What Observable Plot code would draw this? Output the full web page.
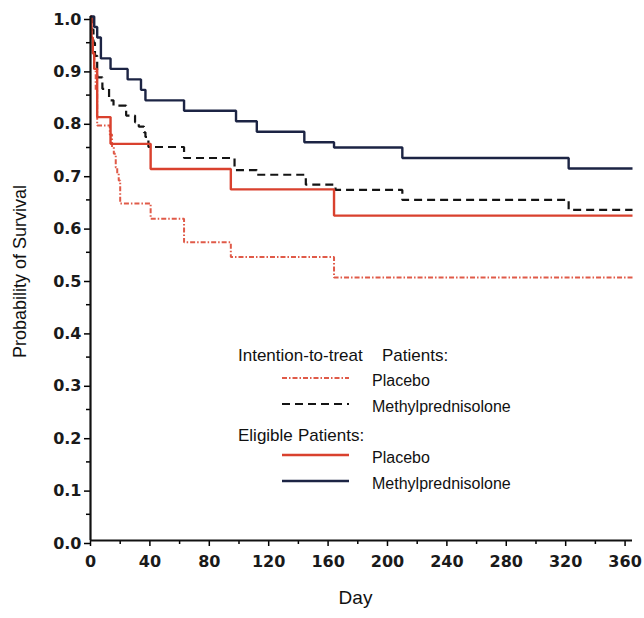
<!DOCTYPE html>
<html>
<head>
<meta charset="utf-8">
<script src="https://cdn.jsdelivr.net/npm/d3@7"></script>
<script src="https://cdn.jsdelivr.net/npm/@observablehq/plot@0.6"></script>
<style>
  html, body { margin: 0; padding: 0; background: #fff; }
  #chart svg { display: block; }
</style>
</head>
<body>
<div id="chart"></div>
<script>
// Eligible patients, methylprednisolone (solid navy)
const emDay  = [0, 2.5, 4.5, 7, 13.5, 25, 34, 37, 63, 98, 112, 144, 164, 210, 322, 365];
const emSurv = [1, 0.98, 0.96, 0.92, 0.90, 0.88, 0.86, 0.84, 0.82, 0.80, 0.78, 0.76, 0.75, 0.73, 0.71, 0.71];

// Intention-to-treat, methylprednisolone (dashed black)
const imDay  = [0, 1, 2, 3, 4.5, 8, 12.5, 15.5, 24, 30, 32.5, 36, 37, 39, 63, 97, 112, 145, 165, 210, 322, 365];
const imSurv = [1, 0.975, 0.95, 0.925, 0.884, 0.862, 0.84, 0.83, 0.811, 0.798, 0.79, 0.779, 0.77, 0.751, 0.73, 0.707, 0.698, 0.679, 0.669, 0.65, 0.631, 0.631];

// Intention-to-treat, placebo (red dash-dot)
const ipDay  = [0, 0.7, 1.5, 2.5, 3.5, 4.5, 13, 14.5, 15.7, 17, 18, 19, 20, 40.5, 63, 94.5, 164, 365];
const ipSurv = [1, 0.96, 0.93, 0.90, 0.86, 0.792, 0.775, 0.751, 0.738, 0.712, 0.70, 0.687, 0.643, 0.614, 0.569, 0.541, 0.502, 0.502];

// Eligible patients, placebo (solid red)
const epDay  = [0, 0.7, 1.5, 2.5, 4.5, 13.5, 40.5, 94.5, 164, 365];
const epSurv = [1, 0.96, 0.93, 0.90, 0.808, 0.757, 0.709, 0.670, 0.620, 0.620];

const xTicks = [0, 40, 80, 120, 160, 200, 240, 280, 320, 360];
const xMinor = [20, 60, 100, 140, 180, 220, 260, 300, 340];
const yTicks = [0, 0.1, 0.2, 0.3, 0.4, 0.5, 0.6, 0.7, 0.8, 0.9, 1.0];
const yMinor = [0.05, 0.15, 0.25, 0.35, 0.45, 0.55, 0.65, 0.75, 0.85, 0.95];

const seriesNames = ["Intention-to-treat Placebo", "Intention-to-treat Methylprednisolone", "Eligible Placebo", "Eligible Methylprednisolone"];
const legendGroups = ["Intention-to-treat", "Eligible"];
const legendLabels = ["Placebo", "Methylprednisolone", "Placebo", "Methylprednisolone"];

const styles = {
  "Intention-to-treat Placebo": {stroke: "#e05a48", strokeWidth: 2, dash: "5,2,1.5,2"},
  "Intention-to-treat Methylprednisolone": {stroke: "#141414", strokeWidth: 2.2, dash: "8,5"},
  "Eligible Placebo": {stroke: "#d9412e", strokeWidth: 2.4, dash: null},
  "Eligible Methylprednisolone": {stroke: "#1c2444", strokeWidth: 2.4, dash: null}
};

const toRows = (days, surv) => days.map((d, i) => ({day: d, s: surv[i]}));
const seriesData = {
  "Intention-to-treat Placebo": toRows(ipDay, ipSurv),
  "Intention-to-treat Methylprednisolone": toRows(imDay, imSurv),
  "Eligible Placebo": toRows(epDay, epSurv),
  "Eligible Methylprednisolone": toRows(emDay, emSurv)
};

const tickFont = {fontFamily: "DejaVu Sans", fontSize: 16, fontWeight: "bold", fill: "#1a1a1a"};

const lineMarks = seriesNames.map(name => Plot.line(seriesData[name], {
  x: "day", y: "s", curve: "step-after",
  stroke: styles[name].stroke,
  strokeWidth: styles[name].strokeWidth,
  strokeDasharray: styles[name].dash,
  strokeLinejoin: "miter", strokeLinecap: "butt"
}));

const chart = Plot.plot({
  width: 644,
  height: 618,
  marginLeft: 90,
  marginRight: 12,
  marginTop: 16,
  marginBottom: 78,
  style: {fontFamily: "Liberation Sans, Arial, sans-serif", background: "#fff"},
  x: {domain: [0, 365]},
  y: {domain: [0, 1]},
  marks: [
    Plot.axisX(xTicks, {tickSize: 6, tickPadding: 9, strokeWidth: 1.5, ...tickFont, label: null}),
    Plot.axisX(xMinor, {tickSize: 4, tickFormat: () => "", strokeWidth: 1.5, label: null}),
    Plot.axisY(yTicks, {tickSize: 6, tickPadding: 3, dy: 3, strokeWidth: 1.5, tickFormat: d3.format(".1f"), ...tickFont, label: null}),
    Plot.axisY(yMinor, {tickSize: 4, tickFormat: () => "", strokeWidth: 1.5, label: null}),
    ...lineMarks,
    Plot.ruleX([0], {stroke: "#111", strokeWidth: 2.2}),
    Plot.ruleY([0], {stroke: "#111", strokeWidth: 2.2}),
    Plot.text(["Probability of Survival"], {frameAnchor: "left", textAnchor: "middle", rotate: -90, dx: -70, dy: -7, fontSize: 18, fill: "#111", fontFamily: "Liberation Sans"}),
    Plot.text(["Day"], {frameAnchor: "bottom", dx: -6, dy: 63, fontSize: 19, fill: "#111", fontFamily: "Liberation Sans"})
  ]
});

// Legend (layout in pixels)
const svg = d3.select(chart);
const lg = svg.append("g")
  .attr("font-family", "Liberation Sans, Arial, sans-serif")
  .attr("font-size", 16)
  .attr("text-anchor", "start")
  .attr("fill", "#111");
const headerY = [361, 441];
const headerX2 = [382, 298];
legendGroups.forEach((g, i) => {
  lg.append("text").attr("x", 238).attr("y", headerY[i]).attr("font-size", 17).text(g);
  lg.append("text").attr("x", headerX2[i]).attr("y", headerY[i]).attr("font-size", 17).text("Patients:");
});
const rowY = [378, 404, 455, 481];
seriesNames.forEach((name, i) => {
  const st = styles[name];
  lg.append("line")
    .attr("x1", 282).attr("x2", 349).attr("y1", rowY[i]).attr("y2", rowY[i])
    .attr("stroke", st.stroke).attr("stroke-width", st.strokeWidth)
    .attr("stroke-dasharray", st.dash);
  lg.append("text").attr("x", 372).attr("y", rowY[i] + 8).text(legendLabels[i]);
});

document.getElementById("chart").appendChild(chart);
</script>
</body>
</html>
